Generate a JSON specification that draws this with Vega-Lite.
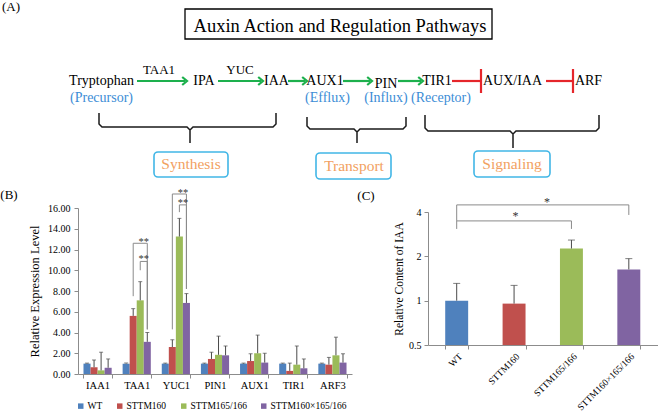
{
  "$schema": "https://vega.github.io/schema/vega-lite/v6.json",
  "padding": 0,
  "background": "white",
  "bounds": "flush",
  "spacing": 0,
  "config": {
    "view": {"stroke": null},
    "font": "Liberation Serif",
    "axis": {"labelFont": "Liberation Serif", "titleFont": "Liberation Serif", "titleFontWeight": "normal", "labelColor": "#000", "titleColor": "#000", "domainColor": "#8c8c8c", "tickColor": "#8c8c8c", "grid": false},
    "legend": {"labelFont": "Liberation Serif", "labelColor": "#000"},
    "text": {"font": "Liberation Serif"}
  },
  "datasets": {
    "labels": [
      {"text": "(A)", "kind": "panel", "x": 11, "y": 11},
      {"text": "(B)", "kind": "panel", "x": 9, "y": 199},
      {"text": "(C)", "kind": "panel", "x": 366, "y": 200},
      {"text": "Auxin Action and Regulation Pathways", "kind": "heading", "x": 340, "y": 31.5},
      {"text": "Tryptophan", "kind": "node", "x": 101.5, "y": 85},
      {"text": "IPA", "kind": "node", "x": 204, "y": 85},
      {"text": "IAA", "kind": "node", "x": 276.5, "y": 85},
      {"text": "AUX1", "kind": "node", "x": 325, "y": 85},
      {"text": "PIN", "kind": "node", "x": 386, "y": 87.5},
      {"text": "TIR1", "kind": "node", "x": 437, "y": 85},
      {"text": "AUX/IAA", "kind": "node", "x": 512.5, "y": 85},
      {"text": "ARF", "kind": "node", "x": 588.5, "y": 85},
      {"text": "TAA1", "kind": "enzyme", "x": 159, "y": 74},
      {"text": "YUC", "kind": "enzyme", "x": 240, "y": 74},
      {"text": "(Precursor)", "kind": "role", "x": 101.5, "y": 101.5},
      {"text": "(Efflux)", "kind": "role", "x": 327.5, "y": 101.5},
      {"text": "(Influx)", "kind": "role", "x": 386, "y": 101.5},
      {"text": "(Receptor)", "kind": "role", "x": 441, "y": 101.5},
      {"text": "Synthesis", "kind": "category", "x": 191, "y": 169},
      {"text": "Transport", "kind": "category", "x": 354, "y": 170.5},
      {"text": "Signaling", "kind": "category", "x": 512, "y": 168.5}
    ],
    "boxes": [
      {"kind": "title", "x": 185, "x2": 492, "y": 9, "y2": 39},
      {"kind": "category", "x": 154, "x2": 228, "y": 152, "y2": 177},
      {"kind": "category", "x": 316, "x2": 391, "y": 153, "y2": 179},
      {"kind": "category", "x": 474, "x2": 550, "y": 151, "y2": 177}
    ],
    "braces": [
      {"b": "S", "o": 1, "x": 99, "y": 113}, {"b": "S", "o": 2, "x": 99, "y": 124}, {"b": "S", "o": 3, "x": 102, "y": 127},
      {"b": "S", "o": 4, "x": 187, "y": 127}, {"b": "S", "o": 5, "x": 190, "y": 130}, {"b": "S", "o": 6, "x": 190, "y": 143},
      {"b": "S", "o": 7, "x": 190, "y": 130}, {"b": "S", "o": 8, "x": 193, "y": 127}, {"b": "S", "o": 9, "x": 273, "y": 127},
      {"b": "S", "o": 10, "x": 276, "y": 124}, {"b": "S", "o": 11, "x": 276, "y": 113},
      {"b": "T", "o": 1, "x": 307, "y": 117}, {"b": "T", "o": 2, "x": 307, "y": 126}, {"b": "T", "o": 3, "x": 310, "y": 129},
      {"b": "T", "o": 4, "x": 354, "y": 129}, {"b": "T", "o": 5, "x": 357, "y": 132}, {"b": "T", "o": 6, "x": 357, "y": 143},
      {"b": "T", "o": 7, "x": 357, "y": 132}, {"b": "T", "o": 8, "x": 360, "y": 129}, {"b": "T", "o": 9, "x": 403, "y": 129},
      {"b": "T", "o": 10, "x": 406, "y": 126}, {"b": "T", "o": 11, "x": 406, "y": 117},
      {"b": "G", "o": 1, "x": 425, "y": 115}, {"b": "G", "o": 2, "x": 425, "y": 128}, {"b": "G", "o": 3, "x": 428, "y": 131},
      {"b": "G", "o": 4, "x": 510, "y": 131}, {"b": "G", "o": 5, "x": 513, "y": 134}, {"b": "G", "o": 6, "x": 513, "y": 148},
      {"b": "G", "o": 7, "x": 513, "y": 134}, {"b": "G", "o": 8, "x": 516, "y": 131}, {"b": "G", "o": 9, "x": 596, "y": 131},
      {"b": "G", "o": 10, "x": 599, "y": 128}, {"b": "G", "o": 11, "x": 599, "y": 115}
    ],
    "greenSegs": [
      {"x": 137, "x2": 185, "y": 81, "y2": 81},
      {"x": 218, "x2": 261, "y": 81, "y2": 81},
      {"x": 288, "x2": 305, "y": 81, "y2": 81},
      {"x": 343, "x2": 370, "y": 81, "y2": 81},
      {"x": 398, "x2": 421, "y": 81, "y2": 81}
    ],
    "arrowHeads": [
      {"x": 184.6, "y": 81}, {"x": 260.6, "y": 81}, {"x": 304.6, "y": 81}, {"x": 369.6, "y": 81}, {"x": 420.6, "y": 81}
    ],
    "redSegs": [
      {"x": 452, "x2": 480, "y": 81, "y2": 81},
      {"x": 481, "x2": 481, "y": 69, "y2": 93},
      {"x": 546, "x2": 572, "y": 81, "y2": 81},
      {"x": 573, "x2": 573, "y": 69, "y2": 93}
    ],
    "expr": [
      {"gene": "IAA1", "series": "WT", "value": 1.0, "upper": 1.05},
      {"gene": "IAA1", "series": "STTM160", "value": 0.65, "upper": 1.35},
      {"gene": "IAA1", "series": "STTM165/166", "value": 0.35, "upper": 2.1},
      {"gene": "IAA1", "series": "STTM160×165/166", "value": 0.6, "upper": 1.45},
      {"gene": "TAA1", "series": "WT", "value": 1.0, "upper": 1.05},
      {"gene": "TAA1", "series": "STTM160", "value": 5.6, "upper": 6.3},
      {"gene": "TAA1", "series": "STTM165/166", "value": 7.1, "upper": 8.9},
      {"gene": "TAA1", "series": "STTM160×165/166", "value": 3.1, "upper": 4.0},
      {"gene": "YUC1", "series": "WT", "value": 1.0, "upper": 1.05},
      {"gene": "YUC1", "series": "STTM160", "value": 2.6, "upper": 3.3},
      {"gene": "YUC1", "series": "STTM165/166", "value": 13.25, "upper": 15.0},
      {"gene": "YUC1", "series": "STTM160×165/166", "value": 6.85, "upper": 7.75},
      {"gene": "PIN1", "series": "WT", "value": 1.0, "upper": 1.05},
      {"gene": "PIN1", "series": "STTM160", "value": 1.45, "upper": 2.1},
      {"gene": "PIN1", "series": "STTM165/166", "value": 1.85, "upper": 3.65},
      {"gene": "PIN1", "series": "STTM160×165/166", "value": 1.8, "upper": 2.7},
      {"gene": "AUX1", "series": "WT", "value": 1.0, "upper": 1.05},
      {"gene": "AUX1", "series": "STTM160", "value": 1.25, "upper": 1.95},
      {"gene": "AUX1", "series": "STTM165/166", "value": 2.0, "upper": 3.75},
      {"gene": "AUX1", "series": "STTM160×165/166", "value": 1.1, "upper": 2.0},
      {"gene": "TIR1", "series": "WT", "value": 1.0, "upper": 1.05},
      {"gene": "TIR1", "series": "STTM160", "value": 0.3, "upper": 1.05},
      {"gene": "TIR1", "series": "STTM165/166", "value": 0.9, "upper": 2.7},
      {"gene": "TIR1", "series": "STTM160×165/166", "value": 0.55, "upper": 1.45},
      {"gene": "ARF3", "series": "WT", "value": 1.0, "upper": 1.05},
      {"gene": "ARF3", "series": "STTM160", "value": 0.9, "upper": 1.6},
      {"gene": "ARF3", "series": "STTM165/166", "value": 1.8, "upper": 3.55},
      {"gene": "ARF3", "series": "STTM160×165/166", "value": 1.1, "upper": 1.95}
    ],
    "exprBrackets": [
      {"b": "t1", "o": 1, "gene": "TAA1", "series": "STTM160", "value": 7.5},
      {"b": "t1", "o": 2, "gene": "TAA1", "series": "STTM160", "value": 12.6},
      {"b": "t1", "o": 3, "gene": "TAA1", "series": "STTM160×165/166", "value": 12.6},
      {"b": "t1", "o": 4, "gene": "TAA1", "series": "STTM160×165/166", "value": 4.3},
      {"b": "t2", "o": 1, "gene": "TAA1", "series": "STTM165/166", "value": 10.0},
      {"b": "t2", "o": 2, "gene": "TAA1", "series": "STTM165/166", "value": 10.85},
      {"b": "t2", "o": 3, "gene": "TAA1", "series": "STTM160×165/166", "value": 10.85},
      {"b": "t2", "o": 4, "gene": "TAA1", "series": "STTM160×165/166", "value": 4.3},
      {"b": "y1", "o": 1, "gene": "YUC1", "series": "STTM160", "value": 4.3},
      {"b": "y1", "o": 2, "gene": "YUC1", "series": "STTM160", "value": 17.35},
      {"b": "y1", "o": 3, "gene": "YUC1", "series": "STTM160×165/166", "value": 17.35},
      {"b": "y1", "o": 4, "gene": "YUC1", "series": "STTM160×165/166", "value": 8.2},
      {"b": "y2", "o": 1, "gene": "YUC1", "series": "STTM165/166", "value": 15.6},
      {"b": "y2", "o": 2, "gene": "YUC1", "series": "STTM165/166", "value": 16.3},
      {"b": "y2", "o": 3, "gene": "YUC1", "series": "STTM160×165/166", "value": 16.3},
      {"b": "y2", "o": 4, "gene": "YUC1", "series": "STTM160×165/166", "value": 8.2}
    ],
    "exprStars": [
      {"gene": "TAA1", "series": "STTM165/166", "value": 13.0},
      {"gene": "TAA1", "series": "STTM165/166", "value": 11.3},
      {"gene": "YUC1", "series": "STTM165/166", "value": 17.7},
      {"gene": "YUC1", "series": "STTM165/166", "value": 16.75}
    ],
    "iaa": [
      {"cat": "WT", "value": 1.0, "upper": 1.31},
      {"cat": "STTM160", "value": 0.955, "upper": 1.27},
      {"cat": "STTM165/166", "value": 2.26, "upper": 2.58},
      {"cat": "STTM160×165/166", "value": 1.63, "upper": 1.93}
    ],
    "iaaBrackets": [
      {"b": "i", "o": 1, "cat": "WT", "value": 3.07},
      {"b": "i", "o": 2, "cat": "WT", "value": 3.48},
      {"b": "i", "o": 3, "cat": "STTM165/166", "value": 3.48},
      {"b": "i", "o": 4, "cat": "STTM165/166", "value": 3.07},
      {"b": "o", "o": 1, "cat": "WT", "value": 3.48},
      {"b": "o", "o": 2, "cat": "WT", "value": 4.47},
      {"b": "o", "o": 3, "cat": "STTM160×165/166", "value": 4.47},
      {"b": "o", "o": 4, "cat": "STTM160×165/166", "value": 3.82}
    ],
    "iaaStars": [
      {"pair": "inner", "cat": "STTM160", "value": 3.88},
      {"pair": "outer", "cat": "STTM160", "value": 4.83}
    ]
  },
  "vconcat": [
    {
      "width": 659,
      "height": 185,
      "encoding": {
        "x": {"field": "x", "type": "quantitative", "scale": {"domain": [0, 659], "nice": false, "zero": false}, "axis": null},
        "y": {"field": "y", "type": "quantitative", "scale": {"domain": [0, 185], "nice": false, "zero": false, "reverse": true}, "axis": null}
      },
      "layer": [
        {
          "data": {"name": "boxes"},
          "transform": [{"filter": "datum.kind === 'title'"}],
          "mark": {"type": "rect", "fill": "white", "stroke": "#000", "strokeWidth": 1.3},
          "encoding": {"x2": {"field": "x2"}, "y2": {"field": "y2"}}
        },
        {
          "data": {"name": "boxes"},
          "transform": [{"filter": "datum.kind === 'category'"}],
          "mark": {"type": "rect", "fill": "white", "stroke": "#41B6E6", "strokeWidth": 1.6, "cornerRadius": 4},
          "encoding": {"x2": {"field": "x2"}, "y2": {"field": "y2"}}
        },
        {
          "data": {"name": "braces"},
          "mark": {"type": "line", "color": "#1a1a1a", "strokeWidth": 1.5},
          "encoding": {"detail": {"field": "b"}, "order": {"field": "o", "type": "quantitative"}}
        },
        {
          "data": {"name": "greenSegs"},
          "mark": {"type": "rule", "color": "#1DB04D", "strokeWidth": 2.2},
          "encoding": {"x2": {"field": "x2"}, "y2": {"field": "y2"}}
        },
        {
          "data": {"name": "arrowHeads"},
          "mark": {"type": "point", "shape": "M-0.6,-1L0.6,0L-0.6,1", "size": 64, "filled": false, "stroke": "#1DB04D", "strokeWidth": 2.2, "opacity": 1},
          "encoding": {}
        },
        {
          "data": {"name": "redSegs"},
          "mark": {"type": "rule", "color": "#E5262B", "strokeWidth": 2.2},
          "encoding": {"x2": {"field": "x2"}, "y2": {"field": "y2"}}
        },
        {
          "data": {"name": "labels"},
          "transform": [{"filter": "datum.kind === 'panel'"}],
          "mark": {"type": "text", "font": "Liberation Serif", "fontSize": 13, "baseline": "alphabetic", "align": "center", "color": "#000"},
          "encoding": {"text": {"field": "text"}}
        },
        {
          "data": {"name": "labels"},
          "transform": [{"filter": "datum.kind === 'heading'"}],
          "mark": {"type": "text", "font": "Liberation Serif", "fontSize": 18.5, "baseline": "alphabetic", "align": "center", "color": "#000"},
          "encoding": {"text": {"field": "text"}}
        },
        {
          "data": {"name": "labels"},
          "transform": [{"filter": "datum.kind === 'node'"}],
          "mark": {"type": "text", "font": "Liberation Serif", "fontSize": 14, "baseline": "alphabetic", "align": "center", "color": "#000"},
          "encoding": {"text": {"field": "text"}}
        },
        {
          "data": {"name": "labels"},
          "transform": [{"filter": "datum.kind === 'enzyme'"}],
          "mark": {"type": "text", "font": "Liberation Serif", "fontSize": 13, "baseline": "alphabetic", "align": "center", "color": "#000"},
          "encoding": {"text": {"field": "text"}}
        },
        {
          "data": {"name": "labels"},
          "transform": [{"filter": "datum.kind === 'role'"}],
          "mark": {"type": "text", "font": "Liberation Serif", "fontSize": 14, "baseline": "alphabetic", "align": "center", "color": "#3C8DD6"},
          "encoding": {"text": {"field": "text"}}
        },
        {
          "data": {"name": "labels"},
          "transform": [{"filter": "datum.kind === 'category'"}],
          "mark": {"type": "text", "font": "Liberation Serif", "fontSize": 15.5, "baseline": "alphabetic", "align": "center", "color": "#F2A162"},
          "encoding": {"text": {"field": "text"}}
        }
      ]
    },
    {
      "hconcat": [
        {
          "width": 354,
          "height": 189,
          "encoding": {
            "x": {"field": "gene", "type": "nominal", "sort": ["IAA1", "TAA1", "YUC1", "PIN1", "AUX1", "TIR1", "ARF3"],
              "scale": {"range": [78, 352], "paddingInner": 0.28, "paddingOuter": 0.14},
              "axis": {"title": null, "labelAngle": 0, "labelFontSize": 10.5, "labelPadding": 2, "tickBand": "extent", "tickSize": 4}},
            "xOffset": {"field": "series", "type": "nominal", "sort": ["WT", "STTM160", "STTM165/166", "STTM160×165/166"], "scale": {"paddingInner": 0, "paddingOuter": 0}},
            "y": {"field": "value", "type": "quantitative", "scale": {"domain": [0, 16], "range": [189, 23], "nice": false, "zero": true},
              "axis": {"values": [0, 2, 4, 6, 8, 10, 12, 14, 16], "format": ".2f", "title": "Relative Expression Level", "titleFontSize": 12.5, "labelFontSize": 10, "offset": -78, "tickSize": 4, "labelPadding": 4, "titlePadding": 6}}
          },
          "layer": [
            {
              "data": {"name": "expr"},
              "mark": {"type": "bar"},
              "encoding": {
                "color": {"field": "series", "type": "nominal", "sort": ["WT", "STTM160", "STTM165/166", "STTM160×165/166"],
                  "scale": {"domain": ["WT", "STTM160", "STTM165/166", "STTM160×165/166"], "range": ["#4F81BD", "#C0504D", "#9BBB59", "#8064A2"]},
                  "legend": {"orient": "none", "legendX": 76, "legendY": 216, "direction": "horizontal", "title": null, "symbolType": "square", "symbolSize": 30, "symbolStrokeWidth": 0, "labelFontSize": 9.5, "columnPadding": 12, "labelOffset": 2}}
              }
            },
            {
              "data": {"name": "expr"},
              "mark": {"type": "rule", "color": "#4a4a4a", "strokeWidth": 1},
              "encoding": {"y2": {"field": "upper"}}
            },
            {
              "data": {"name": "expr"},
              "mark": {"type": "tick", "color": "#4a4a4a", "size": 4, "thickness": 1, "orient": "horizontal"},
              "encoding": {"y": {"field": "upper", "type": "quantitative"}}
            },
            {
              "data": {"name": "exprBrackets"},
              "mark": {"type": "line", "color": "#8a8a8a", "strokeWidth": 1},
              "encoding": {"detail": {"field": "b"}, "order": {"field": "o", "type": "quantitative"}}
            },
            {
              "data": {"name": "exprStars"},
              "mark": {"type": "text", "text": "**", "font": "Liberation Serif", "fontSize": 10.5, "baseline": "alphabetic", "align": "center", "dx": 3.5, "dy": 5.5, "color": "#333"}
            }
          ]
        },
        {
          "width": 305,
          "height": 160,
          "encoding": {
            "x": {"field": "cat", "type": "nominal", "sort": ["WT", "STTM160", "STTM165/166", "STTM160×165/166"],
              "scale": {"range": [74, 303.5], "paddingInner": 0.6, "paddingOuter": 0.3},
              "axis": {"title": null, "labelAngle": -45, "labelFontSize": 9.5, "labelPadding": 2, "tickBand": "extent", "tickSize": 4}},
            "y": {"field": "value", "type": "quantitative", "scale": {"type": "log", "domain": [0.5, 4], "range": [160, 27], "nice": false},
              "axis": {"values": [0.5, 1, 2, 4], "format": "~g", "title": "Relative Content of IAA", "titleFontSize": 11.5, "labelFontSize": 10, "offset": -74, "tickSize": 4, "labelPadding": 3, "titlePadding": 4}}
          },
          "layer": [
            {
              "data": {"name": "iaa"},
              "mark": {"type": "bar"},
              "encoding": {
                "y2": {"datum": 0.5},
                "color": {"field": "cat", "type": "nominal",
                  "scale": {"domain": ["WT", "STTM160", "STTM165/166", "STTM160×165/166"], "range": ["#4F81BD", "#C0504D", "#9BBB59", "#8064A2"]},
                  "legend": null}
              }
            },
            {
              "data": {"name": "iaa"},
              "mark": {"type": "rule", "color": "#4a4a4a", "strokeWidth": 1},
              "encoding": {"y2": {"field": "upper"}}
            },
            {
              "data": {"name": "iaa"},
              "mark": {"type": "tick", "color": "#4a4a4a", "size": 7, "thickness": 1, "orient": "horizontal"},
              "encoding": {"y": {"field": "upper", "type": "quantitative"}}
            },
            {
              "data": {"name": "iaaBrackets"},
              "mark": {"type": "line", "color": "#8a8a8a", "strokeWidth": 1},
              "encoding": {"detail": {"field": "b"}, "order": {"field": "o", "type": "quantitative"}}
            },
            {
              "data": {"name": "iaaStars"},
              "transform": [{"filter": "datum.pair === 'inner'"}],
              "mark": {"type": "text", "text": "*", "font": "Liberation Serif", "fontSize": 12, "baseline": "alphabetic", "align": "center", "dx": 1.5, "dy": 6, "color": "#333"}
            },
            {
              "data": {"name": "iaaStars"},
              "transform": [{"filter": "datum.pair === 'outer'"}],
              "mark": {"type": "text", "text": "*", "font": "Liberation Serif", "fontSize": 12, "baseline": "alphabetic", "align": "center", "dx": 33, "dy": 6, "color": "#333"}
            }
          ]
        }
      ],
      "spacing": 0,
      "bounds": "flush",
      "resolve": {"scale": {"color": "independent"}}
    }
  ]
}
